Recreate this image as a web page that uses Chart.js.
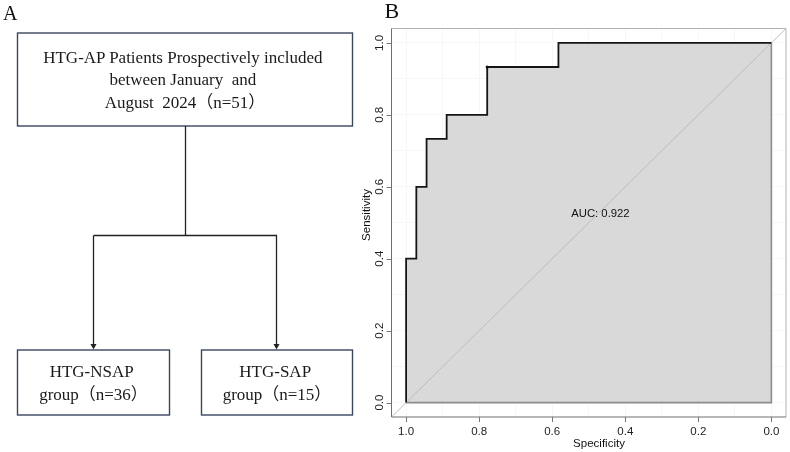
<!DOCTYPE html>
<html>
<head>
<meta charset="utf-8">
<script src="https://cdn.jsdelivr.net/npm/chart.js@4.4.1/dist/chart.umd.min.js"></script>
<style>
  html, body { margin: 0; padding: 0; background: #ffffff; }
  #wrap { position: relative; width: 790px; height: 452px; overflow: hidden; }
  #chartBox { position: absolute; left: 0; top: 0; width: 790px; height: 452px; }
  #flow { position: absolute; left: 0; top: 0; }
  .serif { font-family: "Liberation Serif", "Times New Roman", "Noto Sans CJK SC", serif; }
</style>
</head>
<body>
<div id="wrap">
  <div id="chartBox"><canvas id="roc"></canvas></div>
  <svg id="flow" width="362" height="452" xmlns="http://www.w3.org/2000/svg">
    <text x="3" y="20" class="serif" font-size="20" fill="#111">A</text>
    <!-- top box -->
    <rect x="17.5" y="33" width="335" height="93" fill="#fff" stroke="#3a4660" stroke-width="1.4"/>
    <text class="serif" font-size="17" fill="#1a1a1a" text-anchor="middle">
      <tspan x="185" y="63.3">HTG-AP Patients Prospectively included</tspan>
      <tspan x="185" y="85.3" xml:space="preserve">between January  and</tspan>
      <tspan x="185" y="107.5" xml:space="preserve">August  2024（n=51）</tspan>
    </text>
    <!-- connectors -->
    <g stroke="#222" stroke-width="1.3" fill="none">
      <line x1="185.5" y1="126" x2="185.5" y2="235.5"/>
      <line x1="93.5" y1="235.5" x2="277" y2="235.5"/>
      <line x1="93.5" y1="235.5" x2="93.5" y2="345"/>
      <line x1="276.5" y1="235.5" x2="276.5" y2="345"/>
    </g>
    <polygon points="90.5,344 96.5,344 93.5,349.5" fill="#222"/>
    <polygon points="273.5,344 279.5,344 276.5,349.5" fill="#222"/>
    <!-- bottom boxes -->
    <rect x="17.5" y="350" width="152" height="65" fill="#fff" stroke="#3a4660" stroke-width="1.4"/>
    <rect x="201.5" y="350" width="151" height="65" fill="#fff" stroke="#3a4660" stroke-width="1.4"/>
    <text class="serif" font-size="17" fill="#1a1a1a" text-anchor="middle">
      <tspan x="93.5" y="376.7">HTG-NSAP</tspan>
      <tspan x="93.5" y="400">group（n=36）</tspan>
    </text>
    <text class="serif" font-size="17" fill="#1a1a1a" text-anchor="middle">
      <tspan x="277" y="376.7">HTG-SAP</tspan>
      <tspan x="277" y="400">group（n=15）</tspan>
    </text>
  </svg>
</div>
<script>
// ---- data (specificity on reversed x axis) ----
const rocSpecificity = [1.0, 1.0, 0.972, 0.972, 0.944, 0.944, 0.889, 0.889, 0.778, 0.778, 0.583, 0.583, 0.0];
const rocSensitivity = [0.0, 0.4, 0.4, 0.6, 0.6, 0.733, 0.733, 0.8, 0.8, 0.933, 0.933, 1.0, 1.0];
const bestSpecificity = [0.778];
const bestSensitivity = [0.933];
const xTickValues = [1.0, 0.8, 0.6, 0.4, 0.2, 0.0];
const xTickLabels = ['1.0', '0.8', '0.6', '0.4', '0.2', '0.0'];
const yTickValues = [0.0, 0.2, 0.4, 0.6, 0.8, 1.0];
const yTickLabels = ['0.0', '0.2', '0.4', '0.6', '0.8', '1.0'];
const aucText = 'AUC: 0.922';
const xTitle = 'Specificity';
const yTitle = 'Sensitivity';

const rocPoints = rocSpecificity.map((s, i) => ({ x: s, y: rocSensitivity[i] }));
const bestPoints = bestSpecificity.map((s, i) => ({ x: s, y: bestSensitivity[i] }));
const AX_MIN = -0.04, AX_MAX = 1.04;

const decorPlugin = {
  id: 'decor',
  afterDraw(chart) {
    const ctx = chart.ctx;
    const { left, right, top, bottom } = chart.chartArea;
    const xs = chart.scales.x, ys = chart.scales.y;
    ctx.save();
    // box
    ctx.lineWidth = 1;
    ctx.strokeStyle = '#b3b3b3';
    ctx.beginPath();
    ctx.moveTo(left, top); ctx.lineTo(right, top); ctx.lineTo(right, bottom);
    ctx.stroke();
    ctx.strokeStyle = '#6e6e6e';
    ctx.beginPath();
    ctx.moveTo(left, top); ctx.lineTo(left, bottom); ctx.lineTo(right, bottom);
    ctx.stroke();
    // ticks
    ctx.strokeStyle = '#777';
    ctx.beginPath();
    xTickValues.forEach(v => {
      const px = Math.round(xs.getPixelForValue(v)) + 0.5;
      ctx.moveTo(px, bottom); ctx.lineTo(px, bottom + 5);
    });
    yTickValues.forEach(v => {
      const py = Math.round(ys.getPixelForValue(v)) + 0.5;
      ctx.moveTo(left - 5, py); ctx.lineTo(left, py);
    });
    ctx.stroke();
    // tick labels
    ctx.fillStyle = '#1e1e1e';
    ctx.font = '11.5px "Liberation Sans", Arial, sans-serif';
    ctx.textAlign = 'center';
    ctx.textBaseline = 'middle';
    xTickValues.forEach((v, i) => {
      ctx.fillText(xTickLabels[i], xs.getPixelForValue(v), bottom + 15);
    });
    yTickValues.forEach((v, i) => {
      ctx.save();
      ctx.translate(left - 11.5, ys.getPixelForValue(v));
      ctx.rotate(-Math.PI / 2);
      ctx.fillText(yTickLabels[i], 0, 0);
      ctx.restore();
    });
    // axis titles
    ctx.font = '11.5px "Liberation Sans", Arial, sans-serif';
    ctx.fillStyle = '#111';
    ctx.fillText(xTitle, 599, bottom + 27);
    ctx.save();
    ctx.translate(left - 25, 215);
    ctx.rotate(-Math.PI / 2);
    ctx.fillText(yTitle, 0, 0);
    ctx.restore();
    // AUC label
    ctx.font = '11.3px "Liberation Sans", Arial, sans-serif';
    ctx.fillText(aucText, xs.getPixelForValue(0.468), ys.getPixelForValue(0.524));
    // panel letter
    ctx.font = '22px "Liberation Serif", "Times New Roman", serif';
    ctx.textAlign = 'left';
    ctx.textBaseline = 'alphabetic';
    ctx.fillText('B', 384.5, 18.3);
    ctx.restore();
  }
};

new Chart(document.getElementById('roc'), {
  type: 'line',
  data: {
    datasets: [
      { // best threshold point
        data: bestPoints, order: 0, showLine: false,
        pointRadius: 1.6, pointBackgroundColor: '#111', pointBorderWidth: 0
      },
      { // ROC curve
        data: rocPoints, order: 1, borderColor: '#151515', borderWidth: 1.8,
        pointRadius: 0, fill: false, tension: 0
      },
      { // identity line
        data: [{ x: AX_MAX, y: AX_MIN }, { x: AX_MIN, y: AX_MAX }], order: 2,
        borderColor: '#bdbdbd', borderWidth: 1, pointRadius: 0, fill: false
      },
      { // polygon border
        data: [{ x: 1.0, y: 0.0 }, { x: 0.0, y: 0.0 }, { x: 0.0, y: 1.0 }], order: 3,
        borderColor: '#8c8c8c', borderWidth: 1.6, pointRadius: 0, fill: false
      },
      { // AUC polygon fill
        data: rocPoints, order: 4, borderWidth: 0, borderColor: 'rgba(0,0,0,0)',
        pointRadius: 0, fill: 'origin', backgroundColor: '#d9d9d9'
      }
    ]
  },
  options: {
    responsive: true,
    maintainAspectRatio: false,
    animation: false,
    devicePixelRatio: 1,
    layout: { padding: { left: 391.5, top: 28.5, right: 1.5, bottom: 35 } },
    plugins: { legend: { display: false }, tooltip: { enabled: false } },
    scales: {
      x: {
        type: 'linear', reverse: true, min: AX_MIN, max: AX_MAX,
        ticks: { display: false, stepSize: 0.1, includeBounds: false },
        grid: { color: '#f7f7f7', drawTicks: false, lineWidth: 1 },
        border: { display: false },
        afterFit(s) { s.height = 0; }
      },
      y: {
        type: 'linear', min: AX_MIN, max: AX_MAX,
        ticks: { display: false, stepSize: 0.1, includeBounds: false },
        grid: { color: '#f7f7f7', drawTicks: false, lineWidth: 1 },
        border: { display: false },
        afterFit(s) { s.width = 0; }
      }
    }
  },
  plugins: [decorPlugin]
});
</script>
</body>
</html>
